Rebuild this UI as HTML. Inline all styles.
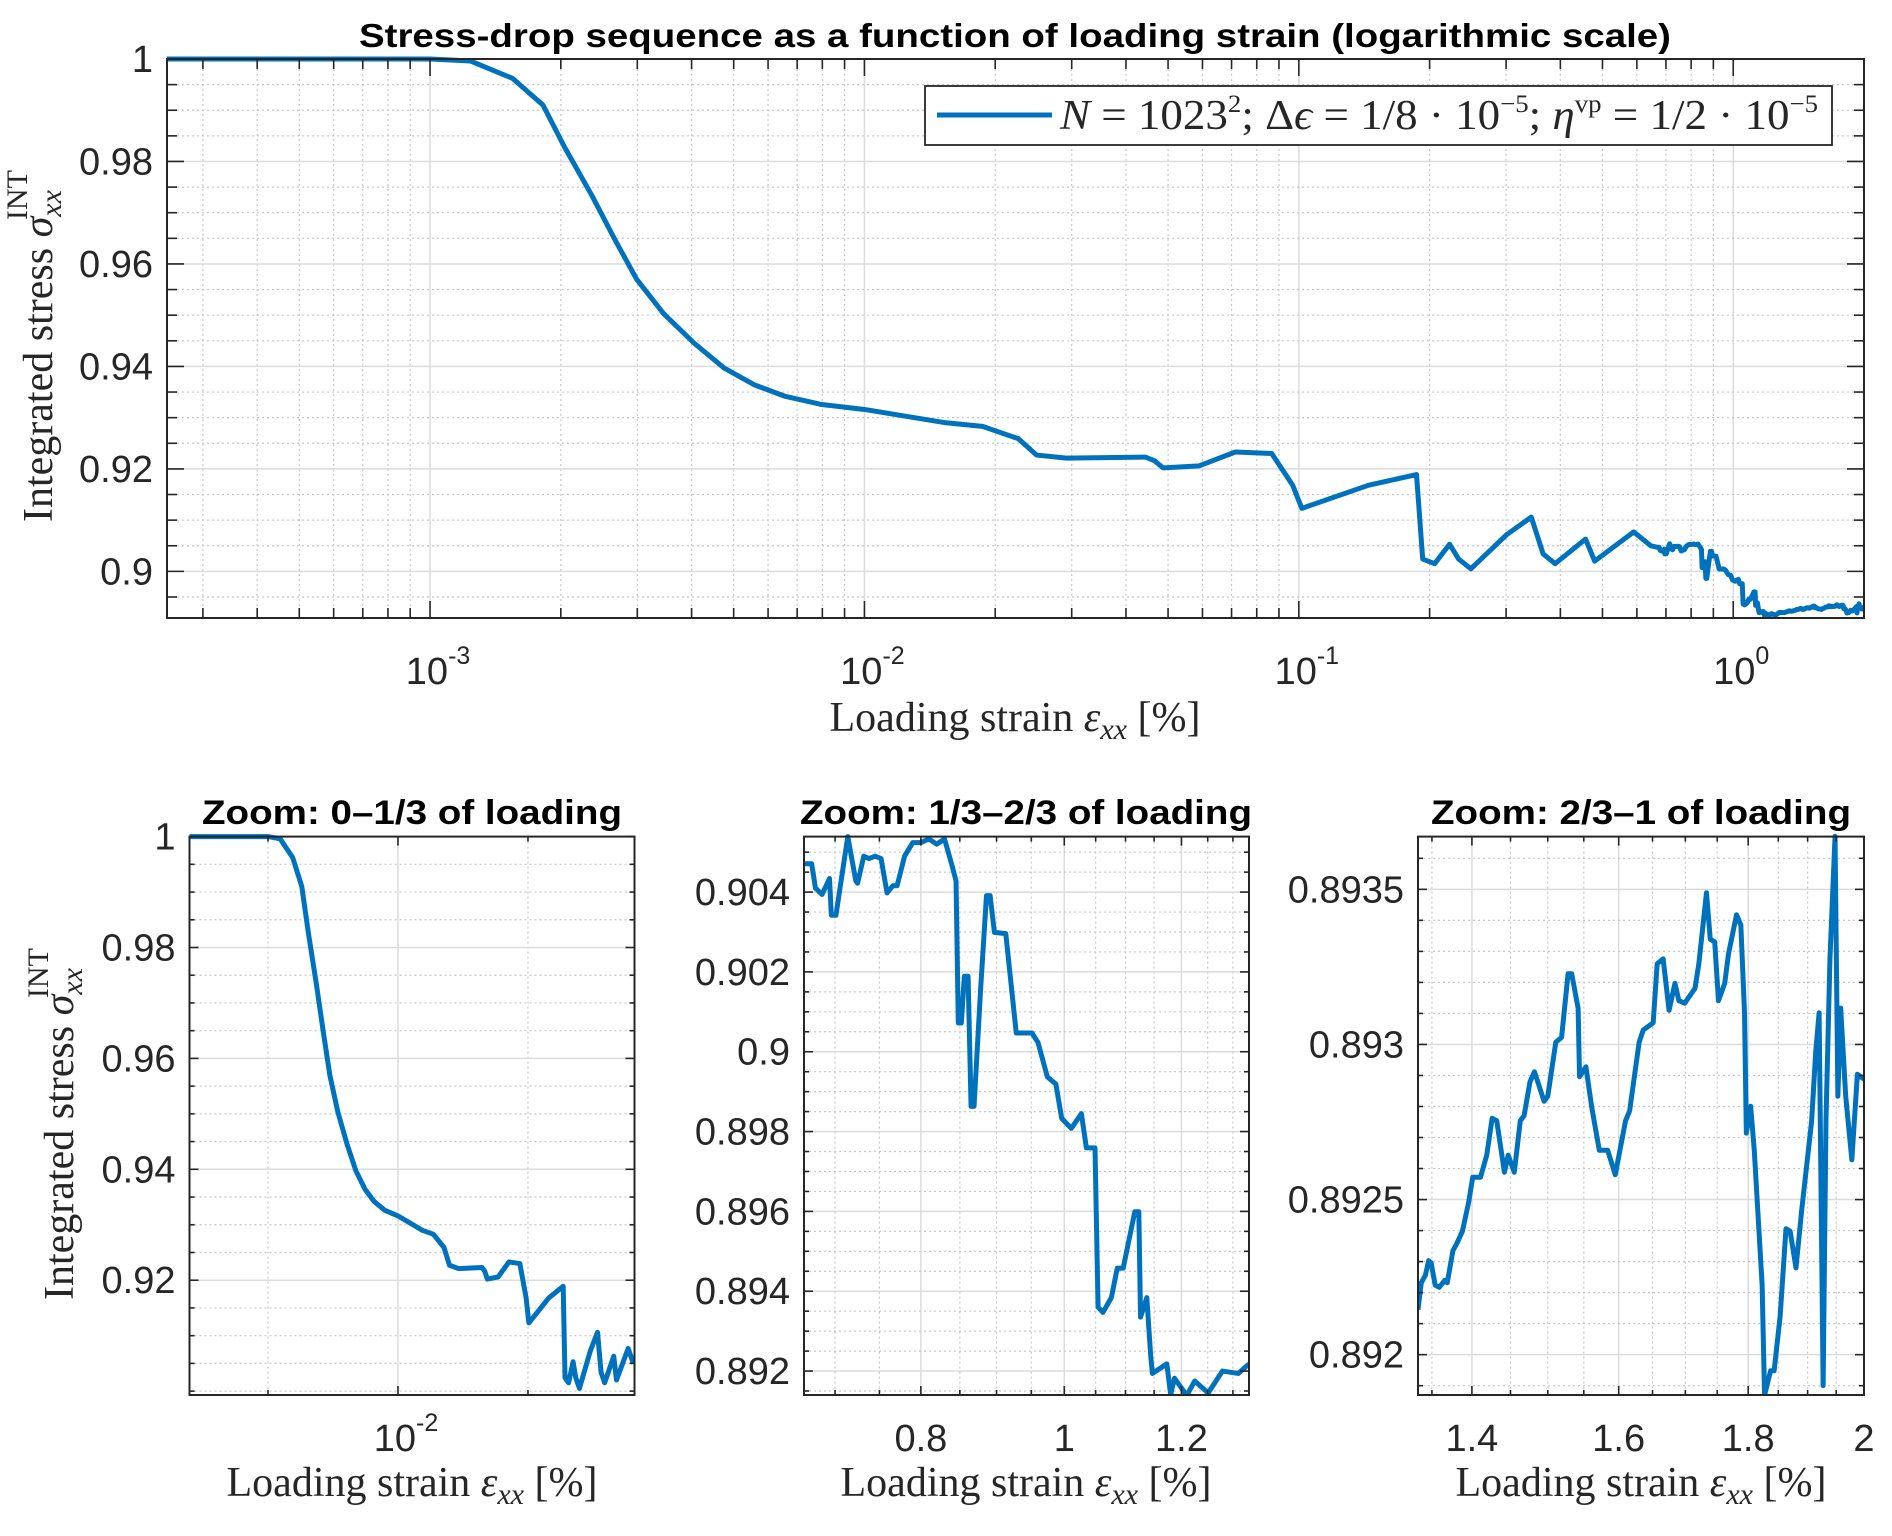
<!DOCTYPE html>
<html><head><meta charset="utf-8"><title>Stress-drop sequence</title>
<style>
html,body{margin:0;padding:0;background:#fff;}
svg{display:block;}
.tk{font-family:"Liberation Sans",Arial,sans-serif;font-size:38px;fill:#262626;}
.ttl{font-family:"Liberation Sans",Arial,sans-serif;font-weight:bold;fill:#000;}
.lab{font-family:"Liberation Serif","DejaVu Serif",serif;font-size:42px;fill:#262626;}
</style></head>
<body>
<svg id="fig" width="1892" height="1536" viewBox="0 0 1892 1536" xmlns="http://www.w3.org/2000/svg">
<rect width="1892" height="1536" fill="#fff"/>
<text class="ttl" x="1015" y="47" font-size="33" text-anchor="middle" textLength="1312" lengthAdjust="spacingAndGlyphs">Stress-drop sequence as a function of loading strain (logarithmic scale)</text>
<text class="ttl" x="412" y="824" font-size="34" text-anchor="middle" textLength="420" lengthAdjust="spacingAndGlyphs">Zoom: 0–1/3 of loading</text>
<text class="ttl" x="1026" y="824" font-size="34" text-anchor="middle" textLength="452" lengthAdjust="spacingAndGlyphs">Zoom: 1/3–2/3 of loading</text>
<text class="ttl" x="1641" y="824" font-size="34" text-anchor="middle" textLength="420" lengthAdjust="spacingAndGlyphs">Zoom: 2/3–1 of loading</text>

<text class="lab" x="1015" y="731" text-anchor="middle">Loading strain <tspan font-style="italic">ε</tspan><tspan font-style="italic" font-size="30" dy="8">xx</tspan><tspan dy="-8"> [%]</tspan></text>
<text class="lab" x="412" y="1496" text-anchor="middle">Loading strain <tspan font-style="italic">ε</tspan><tspan font-style="italic" font-size="30" dy="8">xx</tspan><tspan dy="-8"> [%]</tspan></text>
<text class="lab" x="1026" y="1496" text-anchor="middle">Loading strain <tspan font-style="italic">ε</tspan><tspan font-style="italic" font-size="30" dy="8">xx</tspan><tspan dy="-8"> [%]</tspan></text>
<text class="lab" x="1641" y="1496" text-anchor="middle">Loading strain <tspan font-style="italic">ε</tspan><tspan font-style="italic" font-size="30" dy="8">xx</tspan><tspan dy="-8"> [%]</tspan></text>

<text class="lab" transform="translate(52,522) rotate(-90)" x="0" y="0">Integrated stress <tspan font-style="italic">σ</tspan><tspan font-style="italic" font-size="30" dy="9">xx</tspan><tspan font-size="30" dx="-30" dy="-34">INT</tspan></text>
<text class="lab" transform="translate(73,1300) rotate(-90)" x="0" y="0">Integrated stress <tspan font-style="italic">σ</tspan><tspan font-style="italic" font-size="30" dy="9">xx</tspan><tspan font-size="30" dx="-30" dy="-34">INT</tspan></text>
</svg>
<script>
// ---- data: base sequence (strain %, stress) ----
const baseX = [2.48e-4,1e-3,1.24e-3,1.55e-3,1.82e-3,2.04e-3,2.36e-3,2.67e-3,2.99e-3,3.45e-3,4.06e-3,4.75e-3,5.58e-3,6.55e-3,7.93e-3,1e-2,1.54e-2,1.87e-2,2.26e-2,2.49e-2,2.92e-2,4.43e-2,4.65e-2,4.87e-2,5.90e-2,7.14e-2,8.66e-2,9.68e-2,0.1016,0.1445,0.1866,0.1928,0.2054,0.2223,0.2333,0.2489,0.3013,0.3428,0.3651,0.3890,0.4571,0.4797,0.5902,0.646];
const baseY = [1.0,1.0,0.9996,0.9962,0.9910,0.9828,0.9733,0.9646,0.9570,0.9503,0.9445,0.9397,0.9364,0.9342,0.9326,0.9316,0.9290,0.9283,0.9259,0.9227,0.9221,0.9223,0.9216,0.9202,0.9206,0.9233,0.9230,0.9168,0.9123,0.9168,0.9189,0.9024,0.9015,0.9053,0.9024,0.9005,0.9072,0.9106,0.9034,0.9015,0.9063,0.9020,0.9077,0.9050];
// ---- data: 1/3-2/3 segment ----
const midX = [0.667,0.675,0.679,0.686,0.694,0.696,0.701,0.714,0.723,0.725,0.732,0.738,0.745,0.752,0.759,0.766,0.771,0.780,0.790,0.800,0.810,0.820,0.830,0.840,0.845,0.848,0.852,0.856,0.861,0.865,0.869,0.878,0.886,0.891,0.897,0.913,0.928,0.951,0.960,0.974,0.987,0.996,1.011,1.027,1.035,1.049,1.054,1.062,1.076,1.086,1.096,1.116,1.123,1.126,1.137,1.144,1.147,1.173,1.180,1.187,1.210,1.225,1.251,1.279,1.311,1.333];
const midY = [0.90471,0.90471,0.90410,0.90394,0.90434,0.90342,0.90342,0.90539,0.90428,0.90422,0.90490,0.90484,0.90490,0.90484,0.90398,0.90416,0.90416,0.90490,0.90524,0.90524,0.90533,0.90520,0.90533,0.90465,0.90428,0.90072,0.90072,0.90189,0.90189,0.89863,0.89863,0.90158,0.90391,0.90391,0.90299,0.90296,0.90047,0.90047,0.90023,0.89937,0.89919,0.89833,0.89808,0.89845,0.89759,0.89759,0.89360,0.89347,0.89384,0.89458,0.89458,0.89599,0.89599,0.89335,0.89384,0.89237,0.89194,0.89218,0.89141,0.89182,0.89139,0.89175,0.89145,0.89200,0.89194,0.89218];
// ---- data: 2/3-1 segment ----
const endX = [1.333,1.337,1.342,1.346,1.349,1.354,1.359,1.366,1.369,1.376,1.381,1.388,1.396,1.401,1.411,1.419,1.426,1.432,1.442,1.447,1.455,1.463,1.468,1.476,1.482,1.495,1.500,1.511,1.519,1.528,1.533,1.542,1.544,1.553,1.561,1.572,1.584,1.595,1.610,1.616,1.630,1.636,1.651,1.657,1.666,1.675,1.684,1.690,1.699,1.715,1.721,1.733,1.739,1.746,1.752,1.762,1.768,1.781,1.788,1.794,1.797,1.804,1.810,1.823,1.827,1.837,1.843,1.853,1.863,1.870,1.880,1.890,1.907,1.914,1.920,1.927,1.932,1.939,1.948,1.953,1.958,1.967,1.978,1.988,2.000];
const endY = [0.892145,0.892232,0.892256,0.892303,0.892296,0.892224,0.892217,0.892240,0.892232,0.892335,0.892359,0.892398,0.892493,0.892572,0.892572,0.892643,0.892762,0.892754,0.892588,0.892643,0.892588,0.892754,0.892770,0.892880,0.892912,0.892817,0.892833,0.893007,0.893023,0.893228,0.893228,0.893117,0.892896,0.892928,0.892801,0.892659,0.892659,0.892580,0.892754,0.892786,0.893007,0.893046,0.893070,0.893260,0.893276,0.893110,0.893197,0.893141,0.893133,0.893181,0.893260,0.893489,0.893339,0.893331,0.893141,0.893197,0.893291,0.893418,0.893386,0.893102,0.892714,0.892801,0.892659,0.892224,0.891869,0.891948,0.891948,0.892122,0.892406,0.892398,0.892280,0.892469,0.892754,0.892975,0.893102,0.891900,0.892754,0.893276,0.893671,0.892833,0.893117,0.892833,0.892628,0.892904,0.892888];
// ---- tick labels ----
const mainYTicks = [0.9,0.92,0.94,0.96,0.98,1];
const mainYLabels = ["0.9","0.92","0.94","0.96","0.98","1"];
const mainXTicks = [1e-3,1e-2,1e-1,1];
const mainXExp = ["-3","-2","-1","0"];
const z1YTicks = [0.92,0.94,0.96,0.98,1];
const z1YLabels = ["0.92","0.94","0.96","0.98","1"];
const z1XTicks = [1e-2];
const z1XExp = ["-2"];
const z2YTicks = [0.892,0.894,0.896,0.898,0.9,0.902,0.904];
const z2YLabels = ["0.892","0.894","0.896","0.898","0.9","0.902","0.904"];
const z2XTicks = [0.8,1,1.2];
const z2XLabels = ["0.8","1","1.2"];
const z3YTicks = [0.892,0.8925,0.893,0.8935];
const z3YLabels = ["0.892","0.8925","0.893","0.8935"];
const z3XTicks = [1.4,1.6,1.8,2];
const z3XLabels = ["1.4","1.6","1.8","2"];

const NS = "http://www.w3.org/2000/svg";
const svg = document.getElementById('fig');
function E(tag, parent){ const e=document.createElementNS(NS,tag); parent.appendChild(e); return e; }
function range(a,b,s){ const r=[]; for(let v=a; v<=b+s*1e-6; v+=s) r.push(+v.toFixed(8)); return r; }
function logMinors(lo,hi){ const r=[]; for(let d=Math.floor(Math.log10(lo)); d<=Math.ceil(Math.log10(hi)); d++){ for(let m=1;m<10;m++){ const v=m*Math.pow(10,d); if(v>=lo&&v<=hi) r.push(v);} } return r; }

function makeAxes(name, cfg){
  const g = E('g', svg);
  
  
  const L=cfg.L,R=cfg.R,T=cfg.T,B=cfg.B;
  const lx0=Math.log10(cfg.x0), lx1=Math.log10(cfg.x1);
  const sx = v => L + (Math.log10(v)-lx0)/(lx1-lx0)*(R-L);
  const sy = v => B - (v-cfg.y0)/(cfg.y1-cfg.y0)*(B-T);
  const grid = E('g', g);
  
  
  const ticks = E('g', g);
  ticks.setAttribute('stroke', '#262626'); ticks.setAttribute('stroke-width', '1.6');
  function vline(x, major){
    if(x<L-0.5||x>R+0.5) return;
    const l=E('line',grid); l.setAttribute('x1',x); l.setAttribute('x2',x); l.setAttribute('y1',T); l.setAttribute('y2',B);
    l.setAttribute('stroke', major?'#dcdcdc':'#c8c8c8'); l.setAttribute('stroke-width', major?'1.5':'1.2');
    if(!major) l.setAttribute('stroke-dasharray','2 3');
    const len = major?cfg.tmaj:cfg.tmin;
    [[B,B-len],[T,T+len]].forEach(p=>{ const t=E('line',ticks); t.setAttribute('x1',x); t.setAttribute('x2',x); t.setAttribute('y1',p[0]); t.setAttribute('y2',p[1]); });
  }
  function hline(y, major){
    if(y<T-0.5||y>B+0.5) return;
    const l=E('line',grid); l.setAttribute('y1',y); l.setAttribute('y2',y); l.setAttribute('x1',L); l.setAttribute('x2',R);
    l.setAttribute('stroke', major?'#dcdcdc':'#c8c8c8'); l.setAttribute('stroke-width', major?'1.5':'1.2');
    if(!major) l.setAttribute('stroke-dasharray','2 3');
    const len = major?cfg.tmaj:cfg.tmin;
    [[L,L+len],[R,R-len]].forEach(p=>{ const t=E('line',ticks); t.setAttribute('y1',y); t.setAttribute('y2',y); t.setAttribute('x1',p[0]); t.setAttribute('x2',p[1]); });
  }
  cfg.xMinor.forEach(v=>{ if(!cfg.xTicks.some(t=>Math.abs(t-v)<1e-9*Math.max(1,t)*1e3)) vline(sx(v),false); });
  cfg.xTicks.forEach(v=>vline(sx(v),true));
  cfg.yMinor.forEach(v=>{ if(!cfg.yTicks.some(t=>Math.abs(t-v)<1e-7)) hline(sy(v),false); });
  cfg.yTicks.forEach(v=>hline(sy(v),true));
  const cid = name+'-clip';
  const cp = E('clipPath', g); cp.setAttribute('id', cid);
  const cr = E('rect', cp); cr.setAttribute('x',L); cr.setAttribute('y',T-3); cr.setAttribute('width',R-L); cr.setAttribute('height',B-T+3);
  const path = E('path', g);
  
  
  let d='';
  cfg.xs.forEach((x,i)=>{ d += (i?'L':'M') + sx(x).toFixed(2) + ' ' + sy(cfg.ys[i]).toFixed(2); });
  path.setAttribute('d', d); path.setAttribute('fill','none'); path.setAttribute('stroke','#0072BD');
  path.setAttribute('stroke-width', cfg.lw); path.setAttribute('stroke-linejoin','round');
  path.setAttribute('clip-path', 'url(#'+cid+')');
  const box = E('rect', g);
  
  
  box.setAttribute('x',L); box.setAttribute('y',T); box.setAttribute('width',R-L); box.setAttribute('height',B-T);
  box.setAttribute('fill','none'); box.setAttribute('stroke','#262626'); box.setAttribute('stroke-width','2');
  g.appendChild(ticks);
  cfg.yTicks.forEach((v,i)=>{
    const t=E('text',g);
    
    
    t.setAttribute('class','tk'); t.setAttribute('x', L-14); t.setAttribute('y', sy(v)+13); t.setAttribute('text-anchor','end');
    t.textContent = cfg.yLabels[i];
  });
  cfg.xTicks.forEach((v,i)=>{
    const t=E('text',g);
    
    
    t.setAttribute('class','tk'); t.setAttribute('y', cfg.xLabY); t.setAttribute('text-anchor','middle');
    t.setAttribute('x', sx(v) + (cfg.xExp?8:0));
    if(cfg.xExp){
      const a=E('tspan',t); a.textContent='10';
      const b=E('tspan',t); b.setAttribute('font-size','25'); b.setAttribute('dy','-20'); b.textContent=cfg.xExp[i];
    } else t.textContent = cfg.xLabels[i];
  });
  return {sx,sy};
}

const mainXs = baseX.concat(midX, endX);
const mainYs = baseY.concat(midY, endY);

makeAxes('main', {L:167,R:1864,T:59,B:618,x0:2.48e-4,x1:2.0,y0:0.8909,y1:1.0,
  xTicks:mainXTicks, xExp:mainXExp, xMinor:logMinors(2.48e-4,2.0),
  yTicks:mainYTicks, yLabels:mainYLabels, yMinor:range(0.89,1.0,0.005),
  xs:mainXs, ys:mainYs, lw:5, tmaj:17, tmin:10, xLabY:684});

makeAxes('zoom1', {L:189.5,R:634.5,T:836.6,B:1395,x0:2.49e-4,x1:0.66,y0:0.8993,y1:1.0,
  xTicks:z1XTicks, xExp:z1XExp, xMinor:[1e-3,1e-1],
  yTicks:z1YTicks, yLabels:z1YLabels, yMinor:range(0.90,1.0,0.005),
  xs:baseX, ys:baseY, lw:5, tmaj:9, tmin:5, xLabY:1451});

makeAxes('zoom2', {L:804,R:1249,T:836.6,B:1395,x0:0.667,x1:1.333,y0:0.8914,y1:0.90539,
  xTicks:z2XTicks, xLabels:z2XLabels, xMinor:range(0.70,1.30,0.05),
  yTicks:z2YTicks, yLabels:z2YLabels, yMinor:range(0.8915,0.905,0.0005),
  xs:midX, ys:midY, lw:5, tmaj:9, tmin:5, xLabY:1451});

makeAxes('zoom3', {L:1418,R:1864,T:836.6,B:1395,x0:1.333,x1:2.0,y0:0.89187,y1:0.89367,
  xTicks:z3XTicks, xLabels:z3XLabels, xMinor:range(1.35,1.95,0.05),
  yTicks:z3YTicks, yLabels:z3YLabels, yMinor:range(0.8919,0.8936,0.0001),
  xs:endX, ys:endY, lw:5, tmaj:9, tmin:5, xLabY:1451});

const lg = E('g', svg);


const lr = E('rect', lg);
lr.setAttribute('x',925); lr.setAttribute('y',86); lr.setAttribute('width',907); lr.setAttribute('height',59);
lr.setAttribute('fill','#fff'); lr.setAttribute('stroke','#262626'); lr.setAttribute('stroke-width','1.8');
const ll = E('line', lg);


ll.setAttribute('x1',937); ll.setAttribute('x2',1052); ll.setAttribute('y1',115); ll.setAttribute('y2',115);
ll.setAttribute('stroke','#0072BD'); ll.setAttribute('stroke-width','5');
const lt = E('text', lg);


lt.setAttribute('class','lab'); lt.setAttribute('x',1060); lt.setAttribute('y',129); lt.setAttribute('font-size','40');
lt.innerHTML = '<tspan font-style="italic">N</tspan> = 1023<tspan font-size="25" dy="-17">2</tspan><tspan dy="17">;  Δ</tspan><tspan font-style="italic">ϵ</tspan> = 1/8 · 10<tspan font-size="25" dy="-17">−5</tspan><tspan dy="17">;  </tspan><tspan font-style="italic">η</tspan><tspan font-size="25" dy="-17">vp</tspan><tspan dy="17"> = 1/2 · 10</tspan><tspan font-size="25" dy="-17">−5</tspan>';
lt.setAttribute('textLength','758'); lt.setAttribute('lengthAdjust','spacingAndGlyphs');
</script>
</body></html>
